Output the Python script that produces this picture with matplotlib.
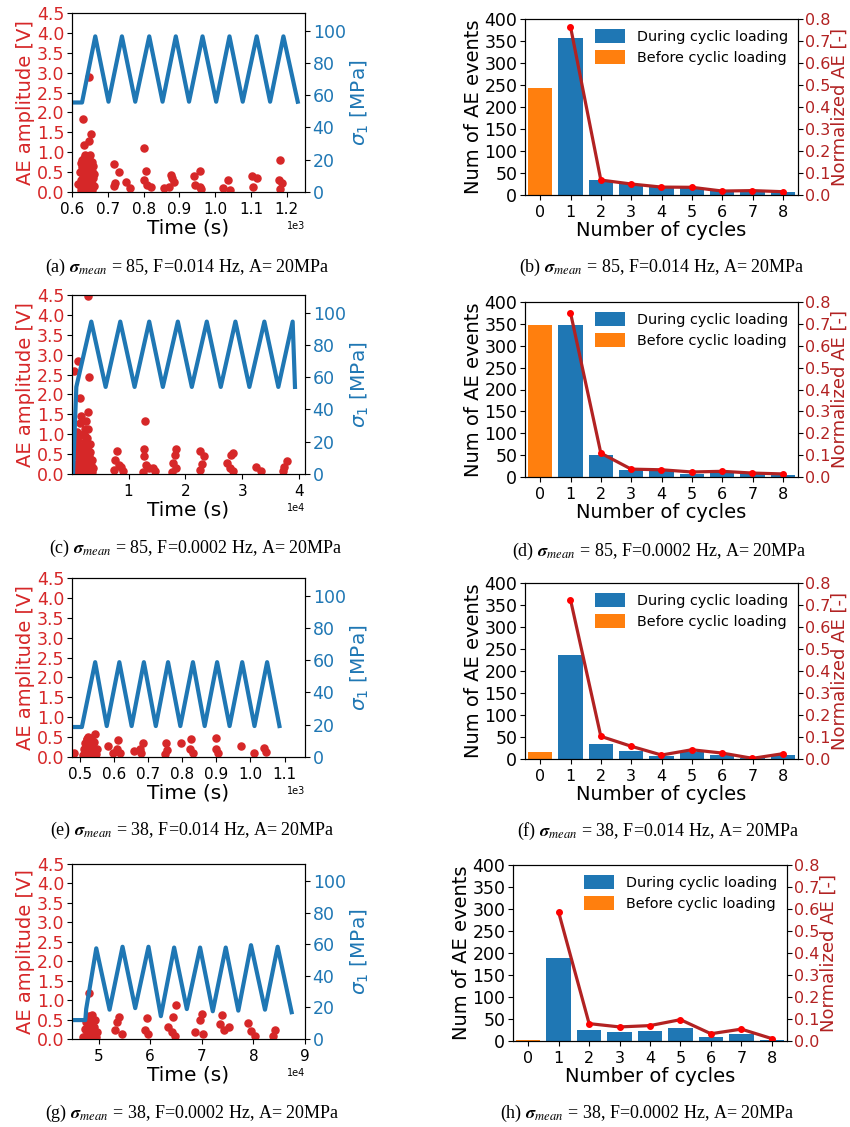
import matplotlib
matplotlib.use('Agg')
import matplotlib.pyplot as plt

# ---------------------------
# Stress paths (time in s, sigma_1 in MPa)
# ---------------------------
a_st_t = [606, 628, 665, 702, 739.5, 776.7, 815.8, 853, 890, 927, 964.7, 1002.8, 1040, 1077, 1116, 1153.5, 1190.7, 1230.7]
a_st_v = [55.5, 55.5, 96.5, 56, 96.5, 56, 96.5, 56, 96.5, 56, 96.5, 56, 96.5, 56, 96.5, 56, 96.5, 56]

c_st_t = [234, 819, 3450, 5965, 8538, 11053, 13626, 16023, 18655, 21111, 23743, 26199, 28772, 31228, 33860, 36316, 38830, 39240]
c_st_v = [0, 54, 94.5, 54, 94.5, 54, 94.5, 54, 94.5, 54, 94.5, 54, 94.5, 54, 94.5, 54, 94.5, 54]

e_st_t = [478, 505, 544, 578, 615, 651, 687, 722, 758, 794, 831, 865.5, 902, 938.6, 975.7, 1011.7, 1048.8, 1085]
e_st_v = [18.6, 18.6, 58.8, 19.2, 58.8, 19.2, 58.8, 19.2, 58.8, 19.2, 58.8, 19.2, 58.8, 19.2, 58.8, 19.2, 58.8, 19.2]

g_st_t = [45164, 47427, 47600, 49555, 52128, 54642, 57099, 59671, 62070, 64642, 67099, 69671, 72128, 74642, 77079, 79536, 82244, 84700, 87408]
g_st_v = [12, 12, 19, 57.5, 18.6, 58.5, 19.6, 58.5, 14.5, 58, 19, 58, 17.6, 58, 18, 59.5, 18.6, 58.5, 17]

# ---------------------------
# AE events (time in s, amplitude in V)
# ---------------------------
a_ae_t = [622, 623, 624, 626, 627, 628, 630, 631, 632, 634, 635, 636, 638, 639, 640, 641, 643, 644, 645, 646,
          648, 648, 650, 651, 652, 653, 655, 656, 657, 658, 660, 661, 625, 633, 642, 647, 629, 645, 654, 637,
          662, 616, 646.5, 630.7, 632.6, 646.5, 653, 637, 651, 628, 655,
          716, 730, 721, 752, 761, 718, 802, 806.5, 800, 809.8, 820, 856, 876, 884, 870, 879,
          939.5, 958, 944, 958, 961, 1035, 1023, 1042, 1104, 1116, 1107, 1181, 1177, 1186, 1181]
a_ae_v = [0.18, 0.5, 0.05, 0.3, 0.62, 0.1, 0.42, 0.72, 0.22, 0.02, 0.55, 0.35, 0.12, 0.68, 0.45, 0.25, 0.05, 0.6, 0.38, 0.15,
          0.75, 0.5, 0.28, 0.08, 0.62, 0.42, 0.2, 0.52, 0.05, 0.35, 0.65, 0.15, 0.72, 0.85, 0.9, 0.88, 0.0, 0.0, 0.0, 0.02,
          0.45, 0.19, 2.88, 1.84, 1.17, 1.28, 1.46, 0.92, 0.92, 0.8, 0.75,
          0.7, 0.5, 0.22, 0.26, 0.11, 0.15, 1.1, 0.54, 0.3, 0.18, 0.13, 0.09, 0.43, 0.26, 0.13, 0.35,
          0.39, 0.54, 0.18, 0.13, 0.07, 0.3, 0.09, 0.05, 0.41, 0.34, 0.13, 0.8, 0.29, 0.22, 0.08]

c_ae_t = [700, 800, 900, 1000, 1100, 1200, 1300, 1400, 1500, 1600, 1700, 1800, 1900, 2000, 2100, 2200, 2300, 2400, 2500,
          2600, 2700, 2800, 2900, 3000, 3100, 3200, 3300, 3400, 3500, 3600, 3700, 1200, 2300, 2500, 1000, 2000, 2700, 3300,
          2807, 468, 1111, 2982, 1520, 1696, 1404, 2865, 2573, 2398, 2807,
          12924, 7953, 7661, 8246, 7368, 8655, 9006, 12749, 12749, 13041, 13509, 14269, 14678, 12515,
          18304, 18187, 17778, 18304, 17602, 22573, 23275, 22865, 22573,
          28012, 28421, 27368, 27836, 28421, 32398, 33275, 37895, 37310, 37193]
c_ae_v = [0.1, 0.45, 0.75, 0.25, 0.6, 0.05, 0.38, 0.7, 0.15, 0.52, 0.3, 0.65, 0.08, 0.42, 0.78, 0.2, 0.58, 0.35, 0.02,
          0.68, 0.48, 0.12, 0.6, 0.28, 0.45, 0.1, 0.55, 0.22, 0.35, 0.05, 0.15, 0.9, 0.95, 0.85, 1.05, 1.0, 0.9, 0.75,
          4.47, 2.59, 2.83, 2.43, 1.91, 1.46, 1.27, 1.57, 1.32, 1.12, 1.14,
          1.32, 0.58, 0.35, 0.22, 0.11, 0.18, 0.08, 0.62, 0.45, 0.22, 0.14, 0.16, 0.08, 0.05,
          0.62, 0.48, 0.27, 0.16, 0.05, 0.58, 0.45, 0.24, 0.09,
          0.48, 0.52, 0.28, 0.16, 0.08, 0.18, 0.08, 0.33, 0.18, 0.08]

e_ae_t = [508, 512, 515, 518, 520, 522, 525, 527, 530, 532, 535, 537, 540, 542, 545, 548, 524, 533, 510, 544,
          482, 521, 544, 583, 612, 607, 617, 597, 658, 685, 677, 680, 751, 755, 749, 795, 824, 822, 831,
          900, 898, 904, 973, 1009, 1041, 1046]
e_ae_v = [0.05, 0.2, 0.35, 0.1, 0.45, 0.28, 0.02, 0.4, 0.15, 0.32, 0.05, 0.25, 0.12, 0.38, 0.08, 0.2, 0.5, 0.48, 0.0, 0.0,
          0.1, 0.46, 0.59, 0.27, 0.42, 0.21, 0.1, 0.1, 0.15, 0.35, 0.21, 0.1, 0.35, 0.17, 0.07, 0.35, 0.45, 0.19, 0.1,
          0.48, 0.21, 0.1, 0.27, 0.1, 0.23, 0.13]

g_ae_t = [47000, 47300, 47600, 47800, 48000, 48200, 48400, 48500, 48700, 48900, 49100, 49300, 49500, 49600, 48100,
          47500, 49000, 48066, 48723, 47872,
          53868, 53559, 53230, 54526, 59362, 59033, 59671, 64971, 64507, 63540, 64197, 64836,
          70000, 69671, 68704, 70310, 73868, 73540, 74313, 75338, 79014, 79478, 80310, 84178, 83849]
g_ae_v = [0.05, 0.25, 0.45, 0.12, 0.35, 0.55, 0.02, 0.2, 0.4, 0.1, 0.3, 0.5, 0.05, 0.18, 0.6,
          0.0, 0.0, 1.19, 0.61, 0.48,
          0.57, 0.44, 0.24, 0.14, 0.55, 0.24, 0.12, 0.88, 0.57, 0.31, 0.18, 0.09,
          0.64, 0.48, 0.18, 0.14, 0.61, 0.38, 0.22, 0.31, 0.4, 0.21, 0.09, 0.24, 0.09]

# ---------------------------
# AE counts per cycle (right panels)
# ---------------------------
cycles = [1, 2, 3, 4, 5, 6, 7, 8]
b_before = 243
b_during = [356, 33, 24, 18, 17, 8, 8, 7]
b_norm = [0.765, 0.068, 0.05, 0.036, 0.035, 0.018, 0.02, 0.015]
d_before = 348
d_during = [348, 51, 17, 15, 8, 13, 9, 5]
d_norm = [0.751, 0.109, 0.036, 0.033, 0.023, 0.026, 0.018, 0.014]
f_before = 16
f_during = [237, 35, 19, 6, 15, 8, 1.5, 8]
f_norm = [0.724, 0.103, 0.058, 0.018, 0.042, 0.027, 0.003, 0.024]
h_before = 2.5
h_during = [189, 26, 21, 23, 30, 10, 17, 3]
h_norm = [0.585, 0.079, 0.064, 0.07, 0.097, 0.033, 0.054, 0.011]

count_ticks = [0, 50, 100, 150, 200, 250, 300, 350, 400]
norm_ticks = [0.0, 0.1, 0.2, 0.3, 0.4, 0.5, 0.6, 0.7, 0.8]

captions = [
    '(a) $\\mathbfit{\\sigma}_{mean}$ = 85, F=0.014 Hz, A= 20MPa',
    '(b) $\\mathbfit{\\sigma}_{mean}$ = 85, F=0.014 Hz, A= 20MPa',
    '(c) $\\mathbfit{\\sigma}_{mean}$ = 85, F=0.0002 Hz, A= 20MPa',
    '(d) $\\mathbfit{\\sigma}_{mean}$ = 85, F=0.0002 Hz, A= 20MPa',
    '(e) $\\mathbfit{\\sigma}_{mean}$ = 38, F=0.014 Hz, A= 20MPa',
    '(f) $\\mathbfit{\\sigma}_{mean}$ = 38, F=0.014 Hz, A= 20MPa',
    '(g) $\\mathbfit{\\sigma}_{mean}$ = 38, F=0.0002 Hz, A= 20MPa',
    '(h) $\\mathbfit{\\sigma}_{mean}$ = 38, F=0.0002 Hz, A= 20MPa',
]

W, H = 850, 1127
fig = plt.figure(figsize=(W / 100, H / 100), dpi=100)


def box(l, r, t, b):
    # pixel box -> figure fraction
    return [l / W, 1 - b / H, (r - l) / W, (b - t) / H]


def left_panel(rect, st_t, st_v, ae_t, ae_v, xlim, xticks):
    ax = fig.add_axes(rect)
    ax.scatter(ae_t, ae_v, color='tab:red', s=26, zorder=3)
    ax.set_ylim(0, 4.5)
    ax.set_yticks([0, 0.5, 1, 1.5, 2, 2.5, 3, 3.5, 4, 4.5])
    ax.set_xlim(*xlim)
    ax.set_xticks(xticks)
    ax.ticklabel_format(style='sci', axis='x', scilimits=(0, 0))
    ax.xaxis.get_offset_text().set_fontsize(7)
    ax.set_xlabel('Time (s)', fontsize=14.5, labelpad=1)
    ax.set_ylabel('AE amplitude [V]', color='tab:red', fontsize=14, labelpad=1)
    ax.tick_params(axis='y', labelcolor='tab:red', labelsize=12.5, pad=2)
    ax.tick_params(axis='x', labelsize=11)
    ax2 = ax.twinx()
    ax2.plot(st_t, st_v, color='tab:blue', lw=3)
    ax2.set_ylim(0, 111)
    ax2.set_yticks([0, 20, 40, 60, 80, 100])
    ax2.set_ylabel('$\\sigma_1$ [MPa]', color='tab:blue', fontsize=14.5, labelpad=2)
    ax2.tick_params(axis='y', labelcolor='tab:blue', labelsize=12.5, pad=2)


def right_panel(rect, before, during, norm):
    ax = fig.add_axes(rect)
    ax.bar(cycles, during, width=0.8, color='tab:blue', label='During cyclic loading')
    ax.bar([0], [before], width=0.8, color='tab:orange', label='Before cyclic loading')
    ax.set_xlim(-0.5, 8.5)
    ax.set_ylim(0, 400)
    ax.set_yticks(count_ticks)
    ax.set_xticks(range(9))
    ax.set_xlabel('Number of cycles', fontsize=14, labelpad=1)
    ax.set_ylabel('Num of AE events', fontsize=14, labelpad=1)
    ax.tick_params(axis='y', labelsize=12.5, pad=2)
    ax.tick_params(axis='x', labelsize=11.5)
    ax.legend(loc='upper right', frameon=False, fontsize=10.4, handlelength=2.1,
              handleheight=1.1, handletextpad=0.8, labelspacing=0.45, borderaxespad=0.3)
    ax2 = ax.twinx()
    ax2.plot(cycles, norm, color='firebrick', lw=2.3, marker='o', ms=4, mfc='red', mec='red')
    ax2.set_ylim(0, 0.8)
    ax2.set_yticks(norm_ticks)
    ax2.set_ylabel('Normalized AE [-]', color='firebrick', fontsize=13, labelpad=0)
    ax2.tick_params(axis='y', labelcolor='firebrick', labelsize=11.5, pad=1.5)


left_panel(box(72, 305, 13, 192), a_st_t, a_st_v, a_ae_t, a_ae_v, (600, 1251), [600, 700, 800, 900, 1000, 1100, 1200])
left_panel(box(72, 305, 295, 474), c_st_t, c_st_v, c_ae_t, c_ae_v, (58, 41000), [10000, 20000, 30000, 40000])
left_panel(box(72, 305, 578, 757), e_st_t, e_st_v, e_ae_t, e_ae_v, (476, 1160), [500, 600, 700, 800, 900, 1000, 1100])
left_panel(box(72, 305, 864, 1039), g_st_t, g_st_v, g_ae_t, g_ae_v, (44850, 90000), [50000, 60000, 70000, 80000, 90000])

right_panel(box(525, 798, 19, 195), b_before, b_during, b_norm)
right_panel(box(525, 798, 302, 477), d_before, d_during, d_norm)
right_panel(box(525, 798, 583, 759), f_before, f_during, f_norm)
right_panel(box(513, 787, 865, 1041), h_before, h_during, h_norm)

# captions under each subfigure
cap_pos = [(187, 267), (662, 267), (196, 548), (659, 551), (192, 830), (658, 831), (192, 1113), (647, 1113)]
for txt, (cx, cy) in zip(captions, cap_pos):
    fig.text(cx / W, 1 - cy / H, txt, ha='center', va='center', fontsize=13,
             family='Liberation Serif', math_fontfamily='stix')

fig.savefig('out.png', dpi=100)
